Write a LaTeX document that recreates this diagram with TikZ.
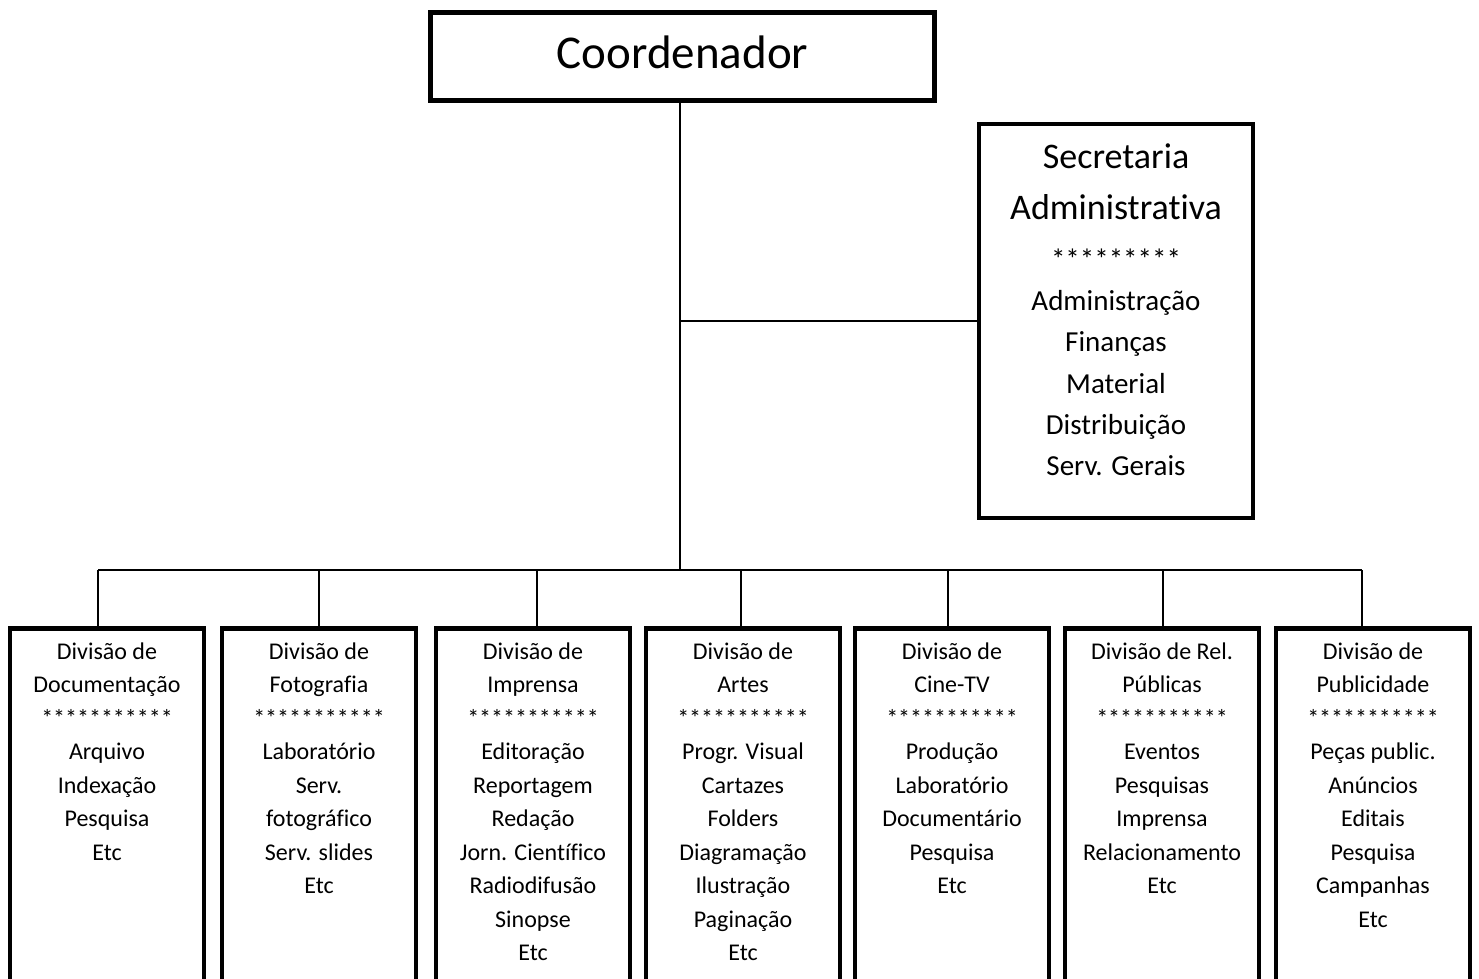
\documentclass[tikz,border=0pt]{standalone}
\usepackage{fontspec}
\setmainfont{Carlito}[Ligatures=CommonOff]
\usetikzlibrary{positioning}

\begin{document}
\begin{tikzpicture}[
  x=1pt, y=-1pt,
  box/.style={draw, line width=4.5pt, inner sep=0pt},
  divbox/.style={box, anchor=north, minimum width=194, minimum height=380},
  divtext/.style={align=center, inner sep=0pt, font=\fontsize{24}{33.5}\selectfont},
  link/.style={line width=1.8pt}
]
\useasboundingbox (0,0) rectangle (1479,978);

% top of the chart
\node[box, minimum width=504, minimum height=88, text height=33, text depth=10,
  font=\fontsize{47}{56}\selectfont] (coord) at (682.5,56.5) {Coordenador};
\node[box, minimum width=274, minimum height=394] (sec) at (1116,321) {};
\node[align=center, inner sep=0pt, font=\fontsize{36}{51.7}\selectfont,
  below=21.5pt of sec.north] (sectitle) {Secretaria\\Administrativa};
\node[align=center, inner sep=0pt, font=\fontsize{29}{41.2}\selectfont,
  below=127pt of sec.north] (secitems)
  {*********\\Administração\\Finanças\\Material\\Distribuição\\Serv. Gerais};

% divisions
\node[divbox] (doc) at (107,626) {};
\node[divbox] (foto) at (319,626) {};
\node[divbox] (impr) at (533,626) {};
\node[divbox] (artes) at (743,626) {};
\node[divbox] (cine) at (952,626) {};
\node[divbox] (relp) at (1162,626) {};
\node[divbox] (publ) at (1373,626) {};

\node[divtext, below=16.5pt of doc.north] (doctxt)
  {Divisão de\\Documentação\\***********\\Arquivo\\Indexação\\Pesquisa\\Etc};
\node[divtext, below=16.5pt of foto.north] (fototxt)
  {Divisão de\\Fotografia\\***********\\Laboratório\\Serv.\\fotográfico\\Serv. slides\\Etc};
\node[divtext, below=16.5pt of impr.north] (imprtxt)
  {Divisão de\\Imprensa\\***********\\Editoração\\Reportagem\\Redação\\Jorn. Científico\\Radiodifusão\\Sinopse\\Etc};
\node[divtext, below=16.5pt of artes.north] (artestxt)
  {Divisão de\\Artes\\***********\\Progr. Visual\\Cartazes\\Folders\\Diagramação\\Ilustração\\Paginação\\Etc};
\node[divtext, below=16.5pt of cine.north] (cinetxt)
  {Divisão de\\Cine-TV\\***********\\Produção\\Laboratório\\Documentário\\Pesquisa\\Etc};
\node[divtext, below=16.5pt of relp.north] (relptxt)
  {Divisão de Rel.\\Públicas\\***********\\Eventos\\Pesquisas\\Imprensa\\Relacionamento\\Etc};
\node[divtext, below=16.5pt of publ.north] (publtxt)
  {Divisão de\\Publicidade\\***********\\Peças public.\\Anúncios\\Editais\\Pesquisa\\Campanhas\\Etc};

% connectors
\coordinate (hub) at (680,570);
\coordinate (bus1) at (98,570);
\coordinate (bus2) at (319,570);
\coordinate (bus3) at (537,570);
\coordinate (bus4) at (741,570);
\coordinate (bus5) at (948,570);
\coordinate (bus6) at (1163,570);
\coordinate (bus7) at (1362,570);
\draw[link] (hub |- coord.south) -- (hub);
\draw[link] (hub |- sec.west) -- (sec.west);
\draw[link] (bus1) -- (bus7);
\draw[link] (bus1) -- (bus1 |- doc.north);
\draw[link] (bus2) -- (bus2 |- foto.north);
\draw[link] (bus3) -- (bus3 |- impr.north);
\draw[link] (bus4) -- (bus4 |- artes.north);
\draw[link] (bus5) -- (bus5 |- cine.north);
\draw[link] (bus6) -- (bus6 |- relp.north);
\draw[link] (bus7) -- (bus7 |- publ.north);
\end{tikzpicture}
\end{document}
